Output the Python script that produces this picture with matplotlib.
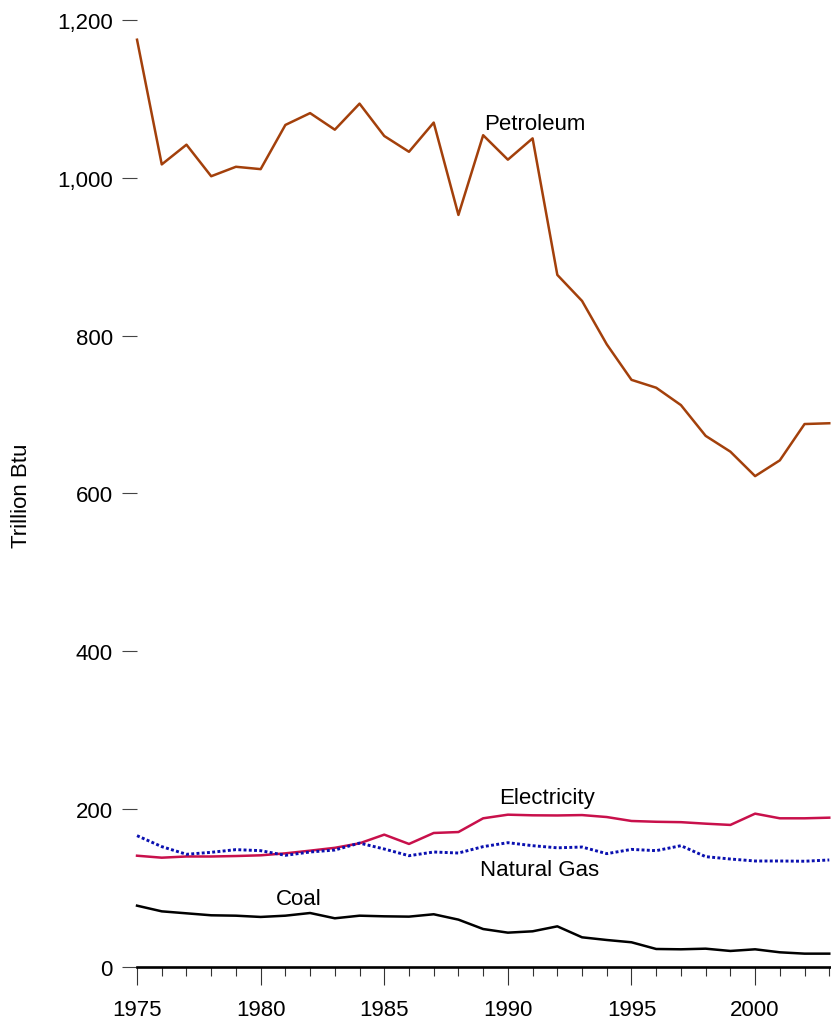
import matplotlib
matplotlib.use("Agg")
import matplotlib.pyplot as plt
from matplotlib.ticker import FuncFormatter, MultipleLocator

plt.rcParams["font.family"] = ["Liberation Sans", "DejaVu Sans"]

years = list(range(1975, 2004))

petroleum = [1175, 1017, 1042, 1002, 1014, 1011, 1067, 1082, 1061, 1094, 1053, 1033,
             1070, 953, 1054, 1023, 1050, 877, 844, 789, 744, 734, 712, 673, 653,
             622, 642, 688, 689]
electricity = [141, 138.5, 140, 140, 140.6, 141.5, 144, 147.4, 151, 156.7, 167.7, 155.9,
               169.8, 171, 188.4, 193, 192.2, 192, 192.5, 190, 185, 184, 183.5, 181.6,
               180, 194.3, 188.4, 188.4, 189.2]
natural_gas = [166.4, 152.5, 142.8, 145.3, 148.7, 147.4, 141.5, 145.7, 148.2, 157, 149.5,
               141, 145.7, 144.4, 152.5, 157.5, 153.7, 151, 152, 143.6, 149, 147.4, 153.7,
               139.8, 136.8, 134.3, 134.3, 134, 135.6]
coal = [77.7, 70.5, 68, 65.5, 65, 63.4, 65, 68.4, 61.7, 65, 64.2, 63.8, 66.8, 60, 48.1,
        43.5, 45.2, 51.5, 37.6, 34.2, 31.3, 22.8, 22.4, 23.2, 20.3, 22.4, 18.6, 16.9, 16.9]

fig = plt.figure(figsize=(8.31, 10.20), dpi=100)
ax = fig.add_axes([0.1649, 0.051, 1 - 0.1649, 0.949])

ax.plot(years, petroleum, color="#A3400B", lw=1.8, clip_on=False)
ax.plot(years, electricity, color="#C8104B", lw=1.8, clip_on=False)
ax.plot(years, natural_gas, color="#0A10B0", lw=2.1, ls=(0, (1, 0.8)), clip_on=False)
ax.plot(years, coal, color="black", lw=1.8, clip_on=False)

fs = 16
ax.text(1991.1, 1069, "Petroleum", ha="center", va="center", fontsize=fs)
ax.text(1991.6, 215, "Electricity", ha="center", va="center", fontsize=fs)
ax.text(1991.3, 123, "Natural Gas", ha="center", va="center", fontsize=fs)
ax.text(1981.55, 87, "Coal", ha="center", va="center", fontsize=fs)

ax.set_xlim(1975, 2003.07)
ax.set_ylim(0, 1226.6)

for s in ["top", "right", "left"]:
    ax.spines[s].set_visible(False)
ax.spines["bottom"].set_linewidth(1.9)

# tick sizes are in points (0.72 pt per px at 100 dpi)
ax.yaxis.set_major_locator(MultipleLocator(200))
ax.yaxis.set_major_formatter(FuncFormatter(lambda v, p: f"{int(v):,}"))
ax.tick_params(axis="y", length=11, width=0.8, color="#444444", pad=6.5, labelsize=fs)

ax.xaxis.set_major_locator(MultipleLocator(5))
ax.xaxis.set_minor_locator(MultipleLocator(1))
ax.tick_params(axis="x", which="major", length=13, width=0.8, color="#333333",
               pad=10, labelsize=fs)
ax.tick_params(axis="x", which="minor", length=6.5, width=0.8, color="#333333")

ax.set_ylabel("Trillion Btu", fontsize=fs)
ax.yaxis.set_label_coords(-0.151, 0.488)

fig.savefig("out.png", dpi=100)
